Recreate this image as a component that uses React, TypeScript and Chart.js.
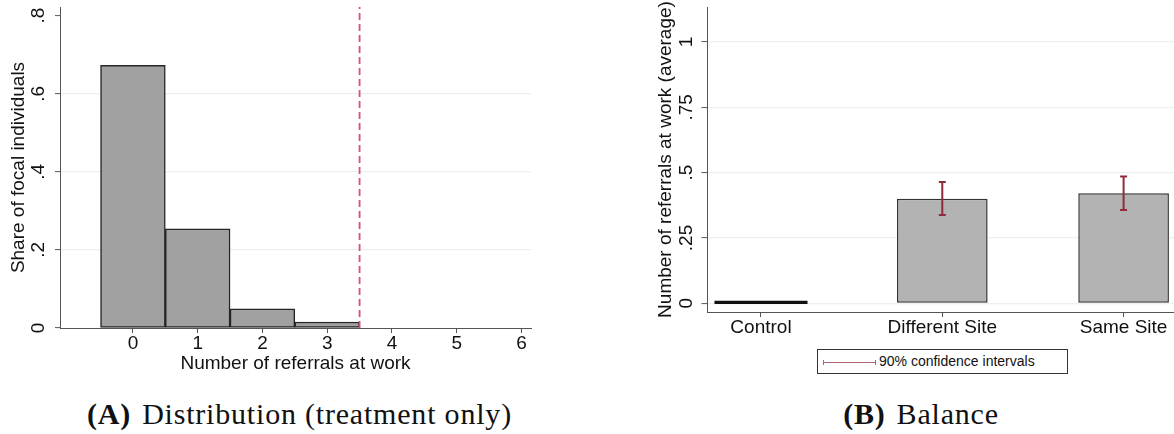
import React, { useEffect, useRef } from "react";
import { Chart, registerables } from "chart.js";

Chart.register(...registerables);

// ---- Panel A: distribution of referrals (treatment only) ----
const referralCounts = [0, 1, 2, 3];
const shareFocal = [0.673, 0.254, 0.049, 0.0154];
const cutoff = 3.5;
const histXTicks = [0, 1, 2, 3, 4, 5, 6];
const histYTicks = [0, 0.2, 0.4, 0.6, 0.8];
const histYLabels = ["0", ".2", ".4", ".6", ".8"];

// ---- Panel B: balance across arms ----
const groups = ["Control", "Different Site", "Same Site"];
const avgReferrals = [0.005, 0.4, 0.421];
const ciLow: (number | null)[] = [null, 0.338, 0.357];
const ciHigh: (number | null)[] = [null, 0.464, 0.485];
const balYTicks = [0, 0.25, 0.5, 0.75, 1];
const balYLabels = ["0", ".25", ".5", ".75", "1"];

const SANS = "'Liberation Sans', Arial, Helvetica, sans-serif";
const SERIF = "'Liberation Serif', 'Times New Roman', serif";
const TEXT = "#111";
const AXIS = "#555";
const GRID = "#e9f1f2";
const CI_COLOR = "#8e2c3a";

const noPad = (s: any) => {
  s.paddingTop = 0;
  s.paddingBottom = 0;
  s.paddingLeft = 0;
  s.paddingRight = 0;
};

// vertical 90% confidence whiskers drawn on the value scale
const ciWhiskers = {
  id: "ciWhiskers",
  afterDatasetsDraw(chart: any) {
    const { ctx, scales } = chart;
    const x = scales.x;
    const y = scales.y;
    ctx.save();
    ctx.strokeStyle = CI_COLOR;
    ctx.lineWidth = 2;
    groups.forEach((_, i) => {
      const lo = ciLow[i];
      const hi = ciHigh[i];
      if (lo == null || hi == null) return;
      const px = x.getPixelForValue(i);
      const yLo = y.getPixelForValue(lo);
      const yHi = y.getPixelForValue(hi);
      ctx.beginPath();
      ctx.moveTo(px, yHi);
      ctx.lineTo(px, yLo);
      ctx.moveTo(px - 3.5, yHi);
      ctx.lineTo(px + 3.5, yHi);
      ctx.moveTo(px - 3.5, yLo);
      ctx.lineTo(px + 3.5, yLo);
      ctx.stroke();
    });
    ctx.restore();
  },
};

// rotated y-axis title that may run past the plot height
const sideTitle = {
  id: "sideTitle",
  afterDraw(chart: any, _args: any, opts: any) {
    if (!opts || !opts.text) return;
    const { ctx, chartArea } = chart;
    const yScale = chart.scales.y;
    ctx.save();
    ctx.translate(yScale.left + opts.offset, (chartArea.top + chartArea.bottom) / 2);
    ctx.rotate(-Math.PI / 2);
    ctx.font = `${opts.size}px ${SANS}`;
    ctx.fillStyle = TEXT;
    ctx.textAlign = "center";
    ctx.textBaseline = "middle";
    ctx.fillText(opts.text, 0, 0);
    ctx.restore();
  },
};

function HistogramPanel() {
  const ref = useRef<HTMLCanvasElement>(null);
  useEffect(() => {
    if (!ref.current) return;
    const chart = new Chart(ref.current, {
      type: "bar",
      data: {
        datasets: [
          {
            type: "line",
            data: [
              { x: cutoff, y: 0 },
              { x: cutoff, y: 0.8222 },
            ],
            borderColor: "#dc4f74",
            borderWidth: 1.8,
            borderDash: [7, 4],
            pointRadius: 0,
            order: 0,
          } as any,
          {
            type: "bar",
            data: referralCounts.map((c, i) => ({ x: c, y: shareFocal[i] })),
            backgroundColor: "#a1a1a1",
            borderColor: "#262626",
            borderWidth: 1.5,
            borderSkipped: false,
            barPercentage: 1,
            categoryPercentage: 1,
            order: 1,
          } as any,
        ],
      },
      options: {
        animation: false,
        responsive: false,
        layout: { padding: { left: 0, top: 7, right: 29, bottom: 0 } },
        plugins: { legend: { display: false }, tooltip: { enabled: false } },
        scales: {
          x: {
            type: "linear",
            min: -1.126,
            max: 6.147,
            offset: false,
            afterBuildTicks: (s: any) => {
              s.ticks = histXTicks.map((v) => ({ value: v }));
            },
            afterFit: (s: any) => {
              s.height = 52;
              noPad(s);
            },
            grid: {
              drawOnChartArea: false,
              drawTicks: true,
              tickLength: 5,
              tickColor: AXIS,
              offset: false,
            },
            border: { display: true, color: AXIS, width: 1 },
            ticks: {
              autoSkip: false,
              maxRotation: 0,
              minRotation: 0,
              padding: -1,
              color: TEXT,
              font: { family: SANS, size: 19 },
              callback: (v: any) => String(v),
            },
            title: {
              display: true,
              text: "Number of referrals at work",
              color: TEXT,
              font: { family: SANS, size: 19 },
              padding: { top: 0, bottom: 4.5 },
            },
          },
          y: {
            type: "linear",
            min: 0,
            max: 0.8222,
            afterBuildTicks: (s: any) => {
              s.ticks = histYTicks.map((v) => ({ value: v }));
            },
            afterFit: (s: any) => {
              s.width = 60;
              noPad(s);
            },
            grid: {
              color: (c: any) =>
                c.tick && (c.tick.value === 0 || c.tick.value === 0.8) ? "rgba(0,0,0,0)" : GRID,
              lineWidth: 1.2,
              drawTicks: true,
              tickLength: 5,
              tickColor: AXIS,
              tickWidth: 1,
            },
            border: { display: true, color: AXIS, width: 1 },
            ticks: {
              minRotation: 90,
              maxRotation: 90,
              crossAlign: "center",
              padding: 8.7,
              color: TEXT,
              font: { family: SANS, size: 19 },
              callback: (_v: any, i: number) => histYLabels[i],
            },
            title: {
              display: true,
              text: "Share of focal individuals",
              color: TEXT,
              font: { family: SANS, size: 19 },
              padding: { top: 7.6, bottom: 0 },
            },
          },
        },
      } as any,
    });
    return () => chart.destroy();
  }, []);
  return <canvas ref={ref} width={560} height={380} style={{ width: 560, height: 380, display: "block" }} />;
}

function BalancePanel() {
  const ref = useRef<HTMLCanvasElement>(null);
  useEffect(() => {
    if (!ref.current) return;
    const chart = new Chart(ref.current, {
      type: "bar",
      data: {
        datasets: [
          {
            data: groups.map((_, i) => ({ x: i, y: avgReferrals[i] })),
            backgroundColor: ["#111111", "#b3b3b3", "#b3b3b3"],
            borderColor: "#333333",
            borderWidth: [0, 1.5, 1.5],
            inflateAmount: [1.2, 0, 0],
            borderSkipped: false,
            barPercentage: 0.5,
            categoryPercentage: 1,
          } as any,
        ],
      },
      options: {
        animation: false,
        responsive: false,
        layout: { padding: { left: 0, top: 7, right: 0, bottom: 0 } },
        plugins: {
          legend: { display: false },
          tooltip: { enabled: false },
          sideTitle: { text: "Number of referrals at work (average)", offset: 45.7, size: 19 },
        } as any,
        scales: {
          x: {
            type: "linear",
            min: -0.295,
            max: 2.278,
            offset: false,
            afterBuildTicks: (s: any) => {
              s.ticks = groups.map((_, i) => ({ value: i }));
            },
            afterFit: (s: any) => {
              s.height = 28;
              noPad(s);
            },
            grid: {
              drawOnChartArea: false,
              drawTicks: true,
              tickLength: 5,
              tickColor: AXIS,
              offset: false,
            },
            border: { display: true, color: AXIS, width: 1 },
            ticks: {
              autoSkip: false,
              maxRotation: 0,
              minRotation: 0,
              padding: -1,
              color: TEXT,
              font: { family: SANS, size: 19 },
              callback: (_v: any, i: number) => groups[i],
            },
          },
          y: {
            type: "linear",
            min: -0.0333,
            max: 1.134,
            afterBuildTicks: (s: any) => {
              s.ticks = balYTicks.map((v) => ({ value: v }));
            },
            afterFit: (s: any) => {
              s.width = 87.5;
              noPad(s);
            },
            grid: {
              color: GRID,
              lineWidth: 1.2,
              drawTicks: true,
              tickLength: 6,
              tickColor: AXIS,
              tickWidth: 1,
            },
            border: { display: true, color: AXIS, width: 1 },
            ticks: {
              minRotation: 90,
              maxRotation: 90,
              crossAlign: "center",
              padding: 1.7,
              color: TEXT,
              font: { family: SANS, size: 19 },
              callback: (_v: any, i: number) => balYLabels[i],
            },
          },
        },
      } as any,
      plugins: [ciWhiskers, sideTitle],
    });
    return () => chart.destroy();
  }, []);
  return <canvas ref={ref} width={554} height={340} style={{ width: 554, height: 340, display: "block" }} />;
}

function Caption({ label, text, center }: { label: string; text: string; center: number }) {
  return (
    <div
      style={{
        position: "absolute",
        left: center - 300,
        width: 600,
        top: 399,
        textAlign: "center",
        fontFamily: SERIF,
        fontSize: 30,
        lineHeight: "30px",
        letterSpacing: "0.8px",
        color: "#111",
        whiteSpace: "nowrap",
      }}
    >
      <span style={{ fontWeight: "bold", marginRight: 11 }}>{label}</span>
      {text}
    </div>
  );
}

export default function App() {
  return (
    <div
      style={{
        position: "absolute",
        left: 0,
        top: 0,
        width: 1174,
        height: 434,
        overflow: "hidden",
        background: "#fff",
      }}
    >
      <div style={{ position: "absolute", left: 0, top: 0 }}>
        <HistogramPanel />
      </div>
      <div style={{ position: "absolute", left: 620, top: 0 }}>
        <BalancePanel />
      </div>

      {/* legend for the confidence whiskers */}
      <div
        style={{
          position: "absolute",
          left: 817,
          top: 349,
          width: 251,
          height: 25,
          boxSizing: "border-box",
          border: "1px solid #333",
          background: "#fff",
        }}
      >
        <div
          style={{
            position: "absolute",
            left: 5,
            top: 10,
            width: 53,
            height: 5,
            boxSizing: "border-box",
            borderLeft: "1.5px solid #b0646c",
            borderRight: "1.5px solid #b0646c",
          }}
        >
          <div style={{ position: "absolute", left: 0, right: 0, top: 1.75, height: 1.5, background: "#b0646c" }} />
        </div>
        <span
          style={{
            position: "absolute",
            left: 61,
            top: 3,
            fontFamily: SANS,
            fontSize: 14,
            lineHeight: "16px",
            color: TEXT,
            whiteSpace: "nowrap",
          }}
        >
          90% confidence intervals
        </span>
      </div>

      <Caption label="(A)" text="Distribution (treatment only)" center={299.5} />
      <Caption label="(B)" text="Balance" center={921} />
    </div>
  );
}
